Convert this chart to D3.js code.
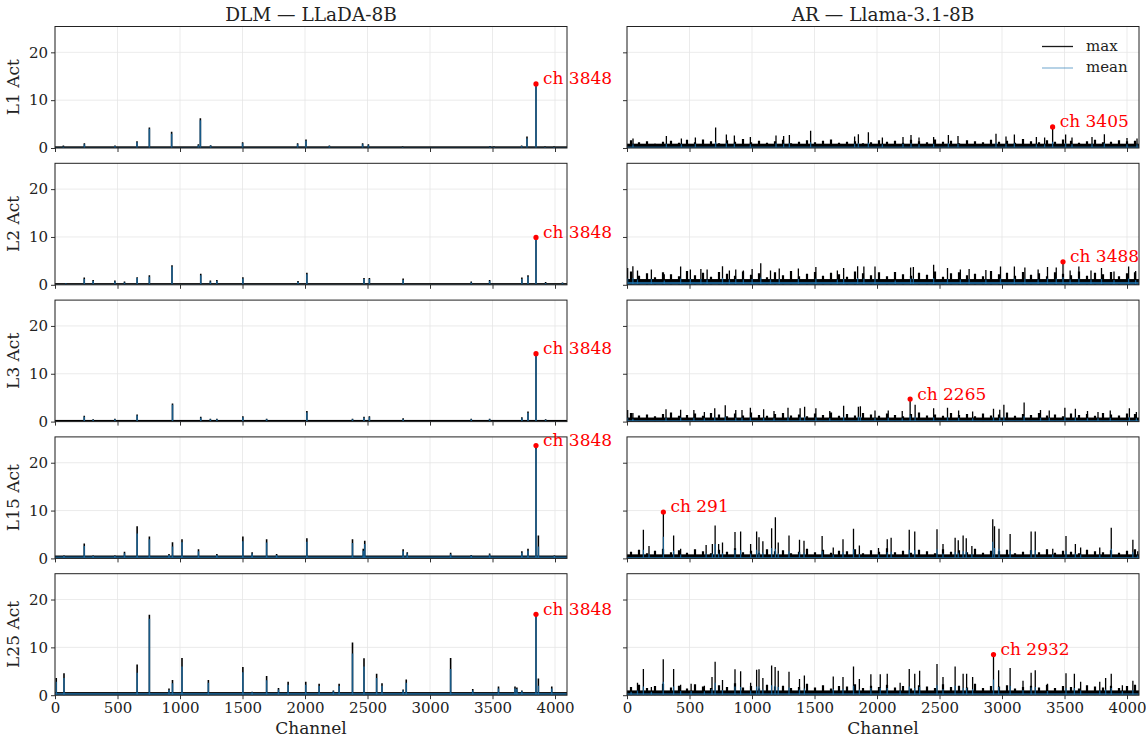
<!DOCTYPE html>
<html>
<head>
<meta charset="utf-8">
<script src="https://cdn.jsdelivr.net/npm/d3@7"></script>
<style>
  body { margin: 0; background: #fff; }
  text { font-family: "DejaVu Serif", serif; fill: #222; }
</style>
</head>
<body>
<div id="chart"></div>
<script>
// ---- data ----
const layers = ["L1", "L2", "L3", "L15", "L25"];
const models = ["DLM — LLaDA-8B", "AR — Llama-3.1-8B"];
const xTicks = [0, 500, 1000, 1500, 2000, 2500, 3000, 3500, 4000];
const yTicks = [0, 10, 20];
const nChannels = 4096;
const yMax = 25.4;

// DLM spikes: [channel, max, mean]
const dlmL1 = [[67,0.5,0.3],[235,1.0,0.8],[480,0.5,0.4],[656,1.4,1.2],[755,4.3,4.0],[933,3.4,3.0],[1147,0.8,0.6],[1163,6.2,5.8],
  [1245,0.6,0.5],[1501,1.2,1.0],[1941,1.0,0.8],[2008,1.8,1.5],[2195,0.5,0.4],[2461,1.0,0.8],[2507,0.8,0.6],[2781,0.3,0.2],
  [3480,0.4,0.3],[3512,0.3,0.2],[3733,0.5,0.4],[3776,2.4,2.0],[3848,13.4,13.0],[3920,0.3,0.2],[3992,0.3,0.2]];
const dlmL2 = [[87,0.4,0.3],[234,1.5,1.2],[305,1.0,0.8],[479,0.9,0.7],[556,0.7,0.5],[657,1.6,1.4],[755,2.0,1.7],[936,4.1,3.8],
  [1166,2.3,2.0],[1243,0.9,0.7],[1295,1.0,0.8],[1503,1.6,1.3],[1944,0.8,0.6],[2015,2.5,2.2],[2472,1.4,1.2],[2515,1.4,1.2],
  [2785,1.3,1.0],[3330,0.7,0.5],[3477,1.0,0.8],[3735,1.5,1.2],[3784,2.0,1.7],[3848,9.9,9.6],[3925,0.6,0.4],[4060,0.5,0.4]];
const dlmL3 = [[234,1.2,1.0],[305,0.5,0.4],[479,0.6,0.5],[657,1.5,1.3],[940,3.8,3.5],[1166,1.0,0.8],[1243,0.6,0.5],[1295,0.6,0.5],
  [1503,1.1,0.9],[1693,0.6,0.5],[2015,2.2,1.9],[2380,0.6,0.5],[2472,1.0,0.8],[2515,1.1,0.9],[2785,0.7,0.5],[3330,0.6,0.5],
  [3477,0.6,0.5],[3735,0.9,0.7],[3784,2.1,1.8],[3848,14.2,13.8],[3925,0.5,0.4]];
const dlmL15 = [[72,0.6,0.5],[234,3.1,2.6],[305,0.6,0.5],[479,0.6,0.5],[556,1.4,1.1],[657,6.7,5.2],[755,4.6,4.0],[912,0.9,0.7],
  [940,3.4,2.5],[1016,4.0,3.4],[1148,1.9,1.5],[1295,0.9,0.7],[1503,4.6,3.6],[1577,1.3,1.0],[1693,4.0,3.3],[1773,0.9,0.7],
  [2015,4.2,3.5],[2380,4.0,3.2],[2466,2.0,1.6],[2478,3.7,3.0],[2785,1.9,1.5],[2818,1.3,1.0],[3165,1.2,0.9],[3330,0.7,0.6],
  [3477,1.0,0.8],[3735,1.5,1.2],[3784,2.0,1.6],[3848,23.6,23.0],[3867,4.8,2.5],[3995,0.6,0.5]];
const dlmL25 = [[10,3.6,2.8],[72,4.6,3.6],[657,6.4,4.7],[755,16.8,16.0],[912,1.4,1.1],[940,3.2,2.5],[1016,7.8,6.0],[1227,3.2,2.6],
  [1503,5.9,4.8],[1577,0.7,0.6],[1693,4.0,3.1],[1788,1.5,1.2],[1865,2.8,2.2],[2006,2.8,2.2],[2113,2.4,1.9],[2227,1.0,0.8],
  [2273,2.4,1.9],[2380,11.0,8.7],[2472,7.7,6.0],[2573,4.5,3.6],[2616,2.5,2.0],[2785,1.2,1.0],[2810,3.3,2.6],[3165,7.8,5.5],
  [3342,1.3,1.0],[3548,1.8,1.4],[3680,1.8,1.4],[3695,1.6,1.3],[3735,1.0,0.8],[3848,16.9,16.4],[3867,3.5,2.0],[3974,1.8,1.4]];

// AR spikes: [channel, max, mean]
const arL1 = [[48,2.0,0.8],[315,2.5,0.9],[435,2.0,0.8],[547,2.2,0.9],[709,4.3,1.2],[795,2.8,1.0],[859,2.6,0.9],[987,2.3,0.8],
  [1192,2.6,1.0],[1253,2.5,0.9],[1299,2.7,1.0],[1469,3.6,1.2],[1821,2.4,0.9],[1851,2.9,1.0],[1931,3.3,1.1],[2043,2.2,0.8],
  [2208,2.3,0.9],[2272,2.7,1.0],[2336,2.2,0.8],[2453,2.3,0.9],[2571,2.7,1.0],[2648,2.5,0.9],[2952,3.0,1.1],[3032,2.4,0.9],
  [3099,2.8,1.0],[3275,2.3,0.8],[3341,2.2,0.8],[3405,4.4,1.3],[3509,2.8,1.0],[3560,2.2,0.8],[3720,2.3,0.9],[3819,2.9,1.0],
  [4000,2.1,0.8],[4080,2.0,0.8]];
const arL2 = [[5,3.5,1.3],[47,3.9,1.4],[84,3.0,1.1],[195,3.2,1.2],[298,2.2,0.9],[429,3.8,1.3],[507,3.2,1.2],[591,3.3,1.2],
  [641,3.2,1.1],[764,3.9,1.4],[819,3.0,1.1],[870,3.2,1.2],[931,3.0,1.1],[1001,3.3,1.2],[1070,4.5,1.5],[1148,3.0,1.1],
  [1218,3.4,1.2],[1371,3.4,1.2],[1511,3.7,1.3],[1683,3.0,1.1],[1733,3.5,1.2],[1845,3.9,1.4],[1895,3.8,1.3],[1984,3.8,1.3],
  [2146,2.5,0.9],[2269,3.6,1.3],[2291,3.7,1.3],[2453,4.2,1.4],[2564,3.5,1.2],[2667,3.2,1.1],[2737,3.3,1.2],[2871,3.1,1.1],
  [2988,3.8,1.3],[3099,3.8,1.3],[3183,3.6,1.3],[3289,3.2,1.1],[3364,3.7,1.3],[3434,3.6,1.3],[3488,4.8,1.6],[3545,3.0,1.1],
  [3615,3.8,1.3],[3712,3.0,1.1],[3796,3.5,1.2],[3896,2.8,1.0],[4013,3.8,1.3],[4069,2.9,1.0]];
const arL3 = [[5,2.4,0.8],[47,1.8,0.6],[312,2.6,0.8],[429,2.5,0.8],[535,2.4,0.8],[619,2.0,0.7],[702,2.8,0.9],[786,3.4,1.0],
  [870,2.4,0.8],[920,2.4,0.8],[987,2.9,0.9],[1093,2.6,0.8],[1176,2.2,0.7],[1288,2.9,0.9],[1385,2.8,0.9],[1421,3.1,1.0],
  [1511,2.8,0.9],[1622,2.2,0.7],[1733,3.3,1.0],[1851,3.1,1.0],[1867,3.2,1.0],[1984,2.3,0.8],[2090,2.3,0.8],[2202,2.2,0.7],
  [2265,4.7,1.3],[2305,3.5,1.0],[2453,2.8,0.9],[2564,2.9,0.9],[2653,2.3,0.8],[2765,2.1,0.7],[2932,2.7,0.9],[2982,2.5,0.8],
  [3015,3.5,1.0],[3177,4.0,1.1],[3308,2.4,0.8],[3378,2.3,0.8],[3503,2.9,0.9],[3587,2.7,0.9],[3684,2.2,0.7],[3768,2.0,0.7],
  [3866,2.3,0.8],[4019,2.8,0.9],[4075,2.0,0.7]];
const arL15 = [[131,6.0,1.8],[176,2.6,0.9],[291,9.7,4.5],[373,4.8,1.6],[429,2.0,0.8],[633,2.8,1.0],[683,3.0,1.0],[705,6.9,3.0],
  [733,3.0,1.0],[764,3.3,1.1],[864,5.5,1.8],[909,5.6,1.7],[989,3.0,1.0],[1037,5.6,1.8],[1056,4.4,1.5],[1087,3.6,1.2],
  [1157,6.3,2.2],[1187,8.6,2.0],[1210,3.3,1.1],[1296,4.8,1.5],[1380,3.9,1.3],[1416,3.7,1.2],[1561,4.7,1.5],[1650,2.3,0.8],
  [1728,4.0,1.3],[1812,6.2,1.9],[1859,2.7,0.9],[2012,2.2,0.8],[2082,4.0,1.3],[2113,4.3,1.4],[2258,6.0,1.8],[2302,5.6,1.7],
  [2480,6.1,1.9],[2528,3.0,1.0],[2625,4.3,1.4],[2650,3.8,1.2],[2689,4.8,1.5],[2714,4.2,1.4],[2759,2.6,0.9],[2926,8.2,3.5],
  [2940,6.7,2.2],[2976,6.2,2.0],[3065,5.1,1.6],[3233,5.6,1.7],[3266,5.6,1.7],[3406,2.0,0.8],[3512,4.7,1.5],[3587,3.0,1.0],
  [3629,2.3,0.8],[3782,2.3,0.8],[3874,6.4,2.0],[4047,3.9,1.3],[4086,1.5,0.6]];
const arL25 = [[33,1.5,0.7],[84,2.6,1.0],[131,5.5,1.8],[195,1.7,0.7],[290,7.5,2.8],[373,5.5,1.8],[429,2.2,0.9],[513,2.4,0.9],
  [619,2.0,0.8],[680,3.8,1.3],[705,7.0,2.6],[764,3.2,1.1],[864,5.4,1.8],[909,5.0,1.7],[989,2.6,1.0],[1037,5.3,1.8],
  [1056,5.4,1.8],[1087,3.6,1.2],[1157,6.2,2.1],[1185,5.9,2.0],[1210,5.1,1.7],[1296,4.9,1.6],[1380,3.4,1.2],[1419,4.1,1.4],
  [1650,3.9,1.3],[1728,3.8,1.3],[1812,6.0,2.0],[1859,3.4,1.2],[1951,4.4,1.5],[2026,4.4,1.5],[2082,4.5,1.5],[2185,2.6,1.0],
  [2258,5.5,1.8],[2302,4.5,1.5],[2341,5.1,1.7],[2480,6.5,2.1],[2528,3.8,1.3],[2625,6.0,2.0],[2689,4.5,1.5],[2717,4.5,1.5],
  [2765,3.8,1.3],[2932,8.5,3.3],[2973,5.2,1.7],[3065,5.7,1.9],[3168,3.0,1.1],[3233,4.7,1.6],[3266,5.2,1.7],[3364,2.4,0.9],
  [3512,4.6,1.5],[3579,4.5,1.5],[3629,2.8,1.0],[3782,2.8,1.0],[3829,3.6,1.2],[3874,4.5,1.5],[3963,2.1,0.8],[4047,3.0,1.1]];

// AR background activity, one value per 64-channel block (max)
const arGrassL1 = [1.6,1.2,1.4,0.9,1.3,1.5,1.1,1.7,1.2,1.8,1.4,1.0,1.6,1.3,1.9,1.2,1.5,1.1,1.4,1.7,1.0,1.3,1.6,1.2,1.5,1.8,1.1,1.3,1.4,1.0,1.2,1.6,
  1.3,1.5,1.1,1.7,1.4,1.2,1.8,1.3,1.5,1.0,1.6,1.4,1.2,1.7,1.3,1.5,1.1,1.9,1.4,1.2,1.6,1.3,1.8,1.5,1.1,1.4,1.7,1.2,1.3,1.6,1.4,1.5];
const arGrassL2 = [2.8,1.9,2.4,1.6,2.6,2.2,1.8,2.9,2.0,2.5,1.7,2.7,2.3,1.9,2.8,2.1,2.4,1.6,2.6,2.0,2.9,1.8,2.3,2.7,1.9,2.5,2.2,1.7,2.8,2.4,2.0,2.6,
  1.8,2.7,2.2,1.9,2.5,2.1,2.8,1.7,2.4,2.6,2.0,2.3,1.8,2.9,2.2,2.5,1.9,2.7,2.1,2.4,1.8,2.6,2.3,2.0,2.8,1.9,2.5,2.2,2.7,1.8,2.4,2.6];
const arGrassL3 = [1.8,1.3,1.5,1.1,1.6,1.9,1.2,1.4,1.7,1.2,1.8,1.5,1.1,1.7,1.3,1.9,1.4,1.2,1.6,1.8,1.3,1.5,1.1,1.7,1.4,1.9,1.2,1.6,1.3,1.8,1.5,1.2,
  1.7,1.4,1.1,1.6,1.9,1.3,1.5,1.2,1.8,1.4,1.6,1.1,1.7,1.3,1.5,1.9,1.2,1.6,1.4,1.8,1.3,1.5,1.1,1.7,1.4,1.6,1.2,1.8,1.5,1.3,1.7,1.6];
const arGrassL15 = [1.4,1.8,1.1,1.6,2.0,1.3,1.7,1.2,1.9,1.5,1.1,1.8,1.4,2.1,1.3,1.6,1.2,1.9,1.5,1.7,1.1,1.4,2.0,1.3,1.8,1.2,1.6,1.5,1.9,1.1,1.7,1.4,
  2.1,1.3,1.6,1.2,1.8,1.5,1.1,1.9,1.4,1.7,1.3,2.0,1.2,1.6,1.5,1.8,1.1,1.4,1.7,1.3,1.9,1.2,1.6,1.4,1.1,1.8,1.5,1.3,1.7,1.2,1.6,1.9];
const arGrassL25 = [1.7,2.2,1.5,1.9,2.4,1.6,2.0,1.4,2.3,1.8,1.5,2.1,1.7,2.5,1.6,1.9,1.4,2.2,1.8,2.0,1.5,1.7,2.4,1.6,2.1,1.4,1.9,1.8,2.3,1.5,2.0,1.7,
  2.2,1.6,1.9,1.4,2.1,1.8,1.5,2.3,1.7,2.0,1.6,2.4,1.5,1.9,1.8,2.1,1.4,1.7,2.0,1.6,2.2,1.5,1.9,1.7,1.4,2.1,1.8,1.6,2.0,1.5,1.9,2.2];

const dlmFloorMax = [0.35, 0.35, 0.35, 0.6, 0.65];
const dlmFloorMean = [0.1, 0.1, 0.1, 0.4, 0.45];
const arFloorMax = [0.9, 1.2, 0.85, 0.85, 1.0];
const arFloorMean = [0.3, 0.6, 0.3, 0.3, 0.4];

// annotated top channel per panel: [channel, value]
const dlmPeak = [[3848, 13.4], [3848, 9.9], [3848, 14.2], [3848, 23.6], [3848, 16.9]];
const arPeak = [[3405, 4.4], [3488, 4.8], [2265, 4.7], [291, 9.7], [2932, 8.5]];

const dlmSpikes = [dlmL1, dlmL2, dlmL3, dlmL15, dlmL25];
const arSpikes = [arL1, arL2, arL3, arL15, arL25];
const arGrass = [arGrassL1, arGrassL2, arGrassL3, arGrassL15, arGrassL25];

// ---- layout ----
const W = 1146, H = 738;
const colX = [55, 627];
const pw = 512, ph = 121.5;
const top0 = 26.5, step = 136.8;
const meanColor = "#1f77b4", meanOpacity = 0.75;

const svg = d3.select("#chart").append("svg")
  .attr("width", W).attr("height", H);

const x = d3.scaleLinear().domain([0, nChannels]).range([0, pw]);
const y = d3.scaleLinear().domain([0, yMax]).range([ph, 0]);

[0, 1].forEach(col => {
  // column title
  svg.append("text")
    .attr("x", colX[col] + pw / 2)
    .attr("y", 21)
    .attr("text-anchor", "middle")
    .style("font-size", "18.5px")
    .text(models[col]);

  layers.forEach((layer, row) => {
    const g = svg.append("g")
      .attr("transform", `translate(${colX[col]},${top0 + row * step})`);
    const clipId = `clip-${col}-${row}`;
    g.append("clipPath").attr("id", clipId)
      .append("rect").attr("width", pw).attr("height", ph);

    // grid
    g.append("g").selectAll("line").data(xTicks).enter().append("line")
      .attr("x1", d => x(d)).attr("x2", d => x(d))
      .attr("y1", 0).attr("y2", ph)
      .attr("stroke", "#e6e6e6").attr("stroke-width", 0.8);
    g.append("g").selectAll("line").data(yTicks).enter().append("line")
      .attr("x1", 0).attr("x2", pw)
      .attr("y1", d => y(d)).attr("y2", d => y(d))
      .attr("stroke", "#e6e6e6").attr("stroke-width", 0.8);

    const plot = g.append("g").attr("clip-path", `url(#${clipId})`);
    const spikes = col === 0 ? dlmSpikes[row] : arSpikes[row];
    const floorMax = col === 0 ? dlmFloorMax[row] : arFloorMax[row];
    const floorMean = col === 0 ? dlmFloorMean[row] : arFloorMean[row];

    // max: floor band + background + spikes
    plot.append("rect")
      .attr("x", x(0)).attr("width", x(nChannels) - x(0))
      .attr("y", y(floorMax)).attr("height", y(0) - y(floorMax))
      .attr("fill", "#000");
    if (col === 1) {
      plot.append("g").selectAll("line").data(arGrass[row]).enter().append("line")
        .attr("x1", (d, i) => x(i * 64 + 32)).attr("x2", (d, i) => x(i * 64 + 32))
        .attr("y1", y(0)).attr("y2", d => y(d))
        .attr("stroke", "#000").attr("stroke-width", 2.2);
    }
    plot.append("g").selectAll("line").data(spikes).enter().append("line")
      .attr("x1", d => x(d[0])).attr("x2", d => x(d[0]))
      .attr("y1", y(0)).attr("y2", d => y(d[1]))
      .attr("stroke", "#000").attr("stroke-width", col === 0 ? 1.6 : 1.3);

    // mean
    plot.append("rect")
      .attr("x", x(0)).attr("width", x(nChannels) - x(0))
      .attr("y", y(floorMean)).attr("height", y(0) - y(floorMean))
      .attr("fill", meanColor).attr("opacity", meanOpacity);
    plot.append("g").selectAll("line").data(spikes).enter().append("line")
      .attr("x1", d => x(d[0])).attr("x2", d => x(d[0]))
      .attr("y1", y(0)).attr("y2", d => y(d[2]))
      .attr("stroke", meanColor).attr("stroke-opacity", meanOpacity)
      .attr("stroke-width", col === 0 ? 1.6 : 1.3);

    // axes
    const xAxis = d3.axisBottom(x).tickValues(xTicks).tickSize(4).tickPadding(3)
      .tickFormat(row < layers.length - 1 ? "" : d3.format("d"));
    g.append("g").attr("transform", `translate(0,${ph})`).call(xAxis)
      .call(a => a.select(".domain").remove());
    const yAxis = d3.axisLeft(y).tickValues(yTicks).tickSize(4).tickPadding(3)
      .tickFormat(col === 1 ? "" : d3.format("d"));
    g.append("g").call(yAxis).call(a => a.select(".domain").remove());
    g.selectAll(".tick text").style("font-family", "DejaVu Serif").style("font-size", "15px").attr("fill", "#222");
    g.selectAll(".tick line").attr("stroke", "#333");

    g.append("rect").attr("width", pw).attr("height", ph)
      .attr("fill", "none").attr("stroke", "#222").attr("stroke-width", 1);

    // annotation of the top channel
    const pk = col === 0 ? dlmPeak[row] : arPeak[row];
    g.append("circle").attr("cx", x(pk[0])).attr("cy", y(pk[1])).attr("r", 2.6).attr("fill", "red");
    g.append("text")
      .attr("x", x(pk[0]) + 7).attr("y", y(pk[1]) - 4)
      .attr("dominant-baseline", "middle")
      .style("font-size", "17px").style("fill", "red")
      .text(`ch ${pk[0]}`);

    if (col === 0) {
      g.append("text")
        .attr("transform", `translate(-36,${ph / 2}) rotate(-90)`)
        .attr("text-anchor", "middle")
        .style("font-size", "17px")
        .text(`${layer} Act`);
    }
    if (row === layers.length - 1) {
      g.append("text")
        .attr("x", pw / 2).attr("y", ph + 39)
        .attr("text-anchor", "middle")
        .style("font-size", "17px")
        .text("Channel");
    }
    if (col === 1 && row === 0) {
      const leg = g.append("g").attr("transform", `translate(${pw - 97},20)`);
      [["max", "#000", 0.9], ["mean", meanColor, 0.5]].forEach((d, i) => {
        leg.append("line").attr("x1", 0).attr("x2", 31)
          .attr("y1", i * 21.5).attr("y2", i * 21.5)
          .attr("stroke", d[1]).attr("stroke-opacity", d[2]).attr("stroke-width", 1.3);
        leg.append("text").attr("x", 44).attr("y", i * 21.5)
          .attr("dominant-baseline", "middle")
          .style("font-size", "15px").text(d[0]);
      });
    }
  });
});
</script>
</body>
</html>
